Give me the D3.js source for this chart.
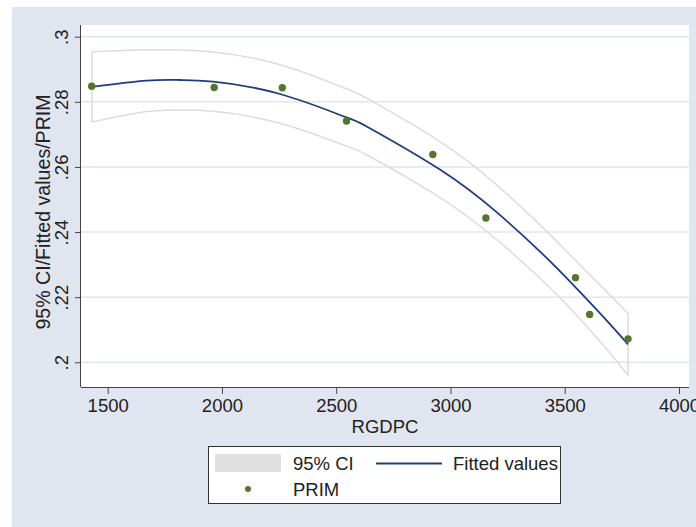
<!DOCTYPE html>
<html>
<head>
<meta charset="utf-8">
<script src="https://cdn.jsdelivr.net/npm/d3@7"></script>
<style>
  body { margin: 0; background: #ffffff; }
  svg text { font-family: "Liberation Sans", Arial, sans-serif; fill: #222; }
</style>
</head>
<body>
<div id="graph"></div>
<script>
// observed points (RGDPC, PRIM)
var primX = [1430, 1966, 2264, 2545, 2923, 3155, 3547, 3609, 3777];
var primY = [0.2848, 0.2844, 0.2843, 0.2741, 0.2638, 0.2443, 0.2260, 0.2147, 0.2072];

// fitted curve and 95% CI
var fitX  = [1431, 1671, 1816, 1962, 2254, 2545, 2647, 2954, 3202, 3392, 3537, 3683, 3777];
var fitY  = [0.2846, 0.2865, 0.2867, 0.2862, 0.2824, 0.2752, 0.2719, 0.2592, 0.2461, 0.2340, 0.2238, 0.2129, 0.2055];
var ciHi  = [0.2954, 0.2960, 0.2959, 0.2953, 0.2914, 0.2840, 0.2806, 0.2678, 0.2545, 0.2422, 0.2320, 0.2217, 0.2150];
var ciLo  = [0.2738, 0.2770, 0.2775, 0.2771, 0.2734, 0.2664, 0.2632, 0.2506, 0.2377, 0.2258, 0.2156, 0.2041, 0.1960];

var xTicks = [1500, 2000, 2500, 3000, 3500, 4000];
var yTicks = [0.2, 0.22, 0.24, 0.26, 0.28, 0.3];

var w = 696, h = 527;
var plotL = 81, plotR = 689, plotT = 25, plotB = 387;

var svg = d3.select("#graph").append("svg")
    .attr("width", w)
    .attr("height", h);

// graph region background
svg.append("rect")
    .attr("x", 12).attr("y", 7)
    .attr("width", w - 12).attr("height", h - 7)
    .attr("fill", "#e0e5f0");

// plot region
svg.append("rect")
    .attr("x", plotL).attr("y", plotT)
    .attr("width", plotR - plotL).attr("height", plotB - plotT)
    .attr("fill", "#ffffff");

var xScale = d3.scaleLinear().domain([1383.2, 4043.8]).range([plotL, plotR]);
var yScale = d3.scaleLinear().domain([0.19241, 0.30359]).range([plotB, plotT]);

// grid lines
svg.append("g").selectAll("line")
    .data(yTicks)
    .enter().append("line")
    .attr("x1", plotL).attr("x2", plotR)
    .attr("y1", function(d) { return yScale(d); })
    .attr("y2", function(d) { return yScale(d); })
    .attr("stroke", "#dfe5f1")
    .attr("stroke-width", 1.5);

// CI band outline
var band = fitX.map(function(x, i) { return { x: x, lo: ciLo[i], hi: ciHi[i] }; });
var area = d3.area()
    .x(function(d) { return xScale(d.x); })
    .y0(function(d) { return yScale(d.lo); })
    .y1(function(d) { return yScale(d.hi); })
    .curve(d3.curveNatural);

svg.append("path")
    .datum(band)
    .attr("d", area)
    .attr("fill", "none")
    .attr("stroke", "#dcdcdc")
    .attr("stroke-width", 1.5);

// fitted line
var fit = fitX.map(function(x, i) { return { x: x, y: fitY[i] }; });
var line = d3.line()
    .x(function(d) { return xScale(d.x); })
    .y(function(d) { return yScale(d.y); })
    .curve(d3.curveNatural);

svg.append("path")
    .datum(fit)
    .attr("d", line)
    .attr("fill", "none")
    .attr("stroke", "#1f3d7c")
    .attr("stroke-width", 1.8);

// points
var pts = primX.map(function(x, i) { return { x: x, y: primY[i] }; });
svg.selectAll(".dot")
    .data(pts)
    .enter().append("circle")
    .attr("class", "dot")
    .attr("cx", function(d) { return xScale(d.x); })
    .attr("cy", function(d) { return yScale(d.y); })
    .attr("r", 3.7)
    .attr("fill", "#55752f");

// axes
var xAxis = d3.axisBottom(xScale)
    .tickValues(xTicks)
    .tickSize(7)
    .tickPadding(5)
    .tickFormat(d3.format("d"));

var gx = svg.append("g")
    .attr("transform", "translate(0," + plotB + ")")
    .call(xAxis);
gx.select(".domain").attr("d", "M" + plotL + ",0.5H" + plotR).attr("stroke", "#444");
gx.selectAll(".tick line").attr("stroke", "#444");
gx.selectAll(".tick text")
    .attr("font-size", "18.5px")
    .attr("font-family", "Liberation Sans, Arial, sans-serif")
    .attr("fill", "#222");

var yAxis = d3.axisLeft(yScale)
    .tickValues(yTicks)
    .tickSize(6)
    .tickFormat(function(d) { return d3.format(".2~f")(d).replace(/^0/, ""); });

var gy = svg.append("g")
    .attr("transform", "translate(" + plotL + ",0)")
    .call(yAxis);
gy.select(".domain").attr("d", "M-0.5," + plotT + "V" + plotB).attr("stroke", "#444");
gy.selectAll(".tick line").attr("stroke", "#444");
gy.selectAll(".tick text")
    .attr("x", null).attr("dy", null)
    .attr("transform", "translate(-13,0) rotate(-90)")
    .attr("text-anchor", "middle")
    .attr("font-size", "18.5px")
    .attr("font-family", "Liberation Sans, Arial, sans-serif")
    .attr("fill", "#222");

// axis titles
svg.append("text")
    .attr("x", (plotL + plotR) / 2)
    .attr("y", 433)
    .attr("text-anchor", "middle")
    .attr("font-size", "18.5px")
    .text("RGDPC");

svg.append("text")
    .attr("transform", "translate(50," + ((plotT + plotB) / 2 + 6) + ") rotate(-90)")
    .attr("text-anchor", "middle")
    .attr("font-size", "19.6px")
    .text("95% CI/Fitted values/PRIM");

// legend
var lg = svg.append("g");
lg.append("rect")
    .attr("x", 208.5).attr("y", 446.5)
    .attr("width", 352).attr("height", 57)
    .attr("fill", "#ffffff")
    .attr("stroke", "#333")
    .attr("stroke-width", 1);

lg.append("rect")
    .attr("x", 215).attr("y", 454)
    .attr("width", 66).attr("height", 18)
    .attr("fill", "#e0e0e0");
lg.append("text").attr("x", 293).attr("y", 470).attr("font-size", "18.5px").text("95% CI");

lg.append("line")
    .attr("x1", 376).attr("x2", 442)
    .attr("y1", 463.5).attr("y2", 463.5)
    .attr("stroke", "#1f3d7c")
    .attr("stroke-width", 1.8);
lg.append("text").attr("x", 453).attr("y", 470).attr("font-size", "18.5px").text("Fitted values");

lg.append("circle")
    .attr("cx", 248).attr("cy", 489)
    .attr("r", 3)
    .attr("fill", "#55752f");
lg.append("text").attr("x", 293).attr("y", 496).attr("font-size", "18.5px").text("PRIM");
</script>
</body>
</html>
